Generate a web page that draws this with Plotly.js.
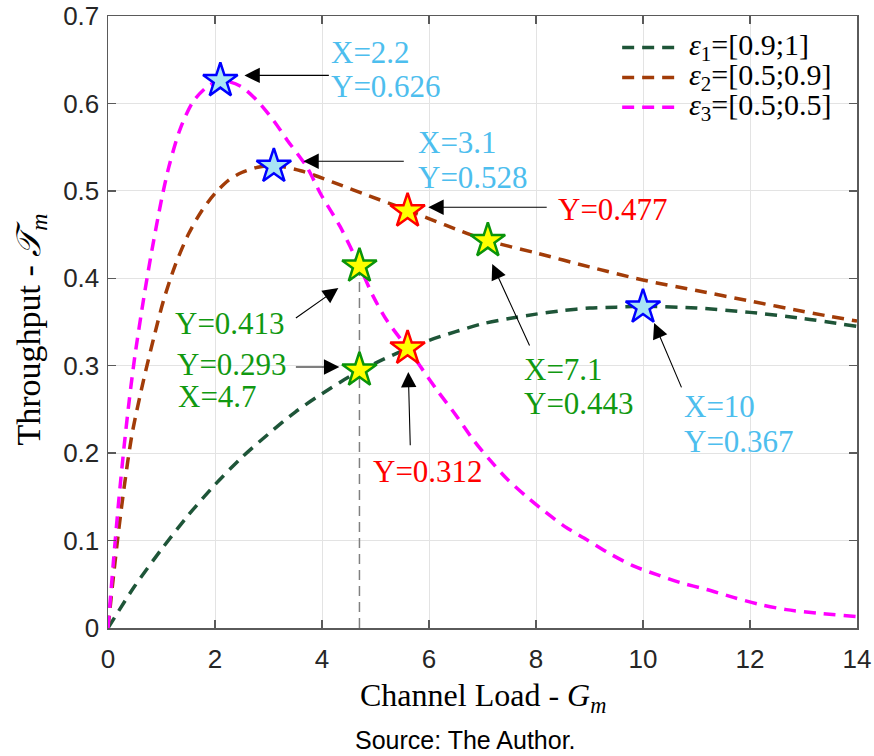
<!DOCTYPE html>
<html>
<head>
<meta charset="utf-8">
<script src="https://cdn.plot.ly/plotly-3.0.1.min.js"></script>
<style>html,body{margin:0;padding:0;background:#fff;}#chart{width:874px;height:756px;}</style>
</head>
<body>
<div id="chart"></div>
<script>
// ---- data ----
const e1X = [0, 0.5, 1, 1.5, 2, 2.5, 3, 3.5, 4, 4.5, 5, 5.5, 6, 6.5, 7, 7.5, 8, 8.5, 9, 9.5, 10, 11, 12, 13, 14];
const e1Y = [0, 0.048, 0.090, 0.129, 0.164, 0.195, 0.222, 0.247, 0.268, 0.287, 0.303, 0.317, 0.329, 0.339, 0.348, 0.354, 0.359, 0.363, 0.366, 0.367, 0.368, 0.366, 0.361, 0.354, 0.345];

const e2X = [0, 0.1, 0.2, 0.3, 0.45, 0.67, 0.86, 1.04, 1.25, 1.5, 1.75, 2.0, 2.25, 2.5, 2.8, 3.1, 3.6, 4.2, 4.8, 5.6, 6.3, 7.1, 8, 9, 10, 11, 12, 13, 14];
const e2Y = [0, 0.058, 0.112, 0.160, 0.222, 0.285, 0.333, 0.375, 0.414, 0.450, 0.477, 0.497, 0.512, 0.521, 0.527, 0.529, 0.523, 0.510, 0.496, 0.478, 0.461, 0.443, 0.429, 0.413, 0.398, 0.386, 0.374, 0.362, 0.351];

const e3X = [0, 0.1, 0.2, 0.3, 0.4, 0.5, 0.67, 0.8, 1.0, 1.14, 1.35, 1.6, 1.9, 2.15, 2.47, 2.79, 3.1, 3.35, 3.72, 3.97, 4.34, 4.7, 4.96, 5.21, 5.6, 5.84, 6.15, 6.52, 6.83, 7.14, 7.45, 7.83, 8.17, 8.54, 8.95, 9.35, 9.82, 10.26, 10.69, 11.19, 11.69, 12.18, 12.68, 13.24, 14];
const e3Y = [0, 0.075, 0.145, 0.207, 0.262, 0.310, 0.378, 0.425, 0.490, 0.528, 0.571, 0.603, 0.621, 0.626, 0.620, 0.603, 0.580, 0.558, 0.527, 0.497, 0.459, 0.414, 0.379, 0.352, 0.320, 0.299, 0.272, 0.242, 0.215, 0.192, 0.171, 0.150, 0.133, 0.116, 0.101, 0.086, 0.071, 0.061, 0.052, 0.044, 0.035, 0.027, 0.021, 0.017, 0.013];

const seriesNames = ['<i>ε</i><sub>1</sub>=[0.9;1]', '<i>ε</i><sub>2</sub>=[0.5;0.9]', '<i>ε</i><sub>3</sub>=[0.5;0.5]'];
const seriesColors = ['#1e5538', '#a23c08', '#ff00ff'];

const blueStarX = [2.1, 3.1, 10];
const blueStarY = [0.626, 0.528, 0.367];
const redStarX = [5.6, 5.6];
const redStarY = [0.477, 0.320];
const greenStarX = [4.7, 4.7, 7.1];
const greenStarY = [0.414, 0.295, 0.443];

const guideX = [4.7, 4.7];
const guideY = [0, 0.413];

// label texts
const labelTexts = ['X=2.2', 'Y=0.626', 'X=3.1', 'Y=0.528', 'Y=0.477', 'Y=0.413', 'Y=0.293', 'X=4.7', 'Y=0.312', 'X=7.1', 'Y=0.443', 'X=10', 'Y=0.367'];

const xTicks = [0, 2, 4, 6, 8, 10, 12, 14];
const yTicks = [0, 0.1, 0.2, 0.3, 0.4, 0.5, 0.6, 0.7];

// ---- styling ----
const DASH = '12px,8px';
const serif = 'Liberation Serif, Times New Roman, serif';
const sans = 'Liberation Sans, Arial, sans-serif';
const cBlueTxt = '#4DBEEE', cGreenTxt = '#119911', cRedTxt = '#ff0000';

const traces = [0, 1, 2].map(i => ({
  x: [e1X, e2X, e3X][i], y: [e1Y, e2Y, e3Y][i], name: seriesNames[i], mode: 'lines', showlegend: false,
  line: {color: seriesColors[i], width: 3.5, dash: DASH, shape: 'spline', smoothing: 0.8}
}));
traces.push(
  {x: guideX, y: guideY, mode: 'lines', showlegend: false, line: {color: '#808080', width: 1.5, dash: '10px,6px'}},
  {x: blueStarX, y: blueStarY, mode: 'markers', showlegend: false, marker: {symbol: 'star', size: 26, color: '#a8e4f5', line: {color: '#0000ff', width: 2.5}}},
  {x: redStarX, y: redStarY, mode: 'markers', showlegend: false, marker: {symbol: 'star', size: 26, color: '#ffff00', line: {color: '#ff0000', width: 2.5}}},
  {x: greenStarX, y: greenStarY, mode: 'markers', showlegend: false, marker: {symbol: 'star', size: 26, color: '#ffff00', line: {color: '#0a940a', width: 2.5}}}
);

// pixel -> data / paper helpers (plot area 107.5..857 x, 628.5..15.5 y)
const X0 = 107.5, PW = 749.5, Y0 = 628.5, PH = 613;
const dx = p => (p - X0) / PW * 14;
const dy = p => (Y0 - p) / PH * 0.7;
const px = p => (p - X0) / PW;
const py = p => (Y0 - p) / PH;

// arrows: [tailPx, tailPy, tipPx, tipPy]
const arrowPx = [
  [330, 75, 244, 75],
  [405, 161, 303, 161],
  [548, 207, 428, 207],
  [294, 319, 338, 288],
  [294, 367, 339, 367],
  [410, 447, 408, 372],
  [530, 347, 492, 264],
  [682, 389, 654, 323]
];
// labels: [text index, leftPx, centerPy, color]
const labelPx = [
  [0, 329, 52, cBlueTxt], [1, 329, 86, cBlueTxt],
  [2, 416, 142, cBlueTxt], [3, 416, 177, cBlueTxt],
  [4, 556, 209, cRedTxt],
  [5, 173, 323, cGreenTxt],
  [6, 175, 365, cGreenTxt], [7, 176, 397, cGreenTxt],
  [8, 371, 472, cRedTxt],
  [9, 522, 370, cGreenTxt], [10, 522, 404, cGreenTxt],
  [11, 682, 407, cBlueTxt], [12, 682, 442, cBlueTxt]
];

const annotations = [];
arrowPx.forEach(a => annotations.push({
  x: dx(a[2]), y: dy(a[3]), ax: dx(a[0]), ay: dy(a[1]), axref: 'x', ayref: 'y', xref: 'x', yref: 'y',
  text: '', showarrow: true, arrowhead: 2, arrowsize: 2.8, arrowwidth: 1.1, arrowcolor: '#000', standoff: 0
}));
labelPx.forEach(l => annotations.push({
  x: dx(l[1]), y: dy(l[2]), xref: 'x', yref: 'y', xanchor: 'left', yanchor: 'middle',
  text: labelTexts[l[0]], showarrow: false, font: {family: serif, size: 31, color: l[3]}
}));

// legend (drawn manually so the line samples match the reference length)
const legendRowsPy = [47, 77, 107];
const shapes = [];
seriesNames.forEach((n, i) => {
  shapes.push({type: 'line', xref: 'paper', yref: 'paper', x0: px(622), x1: px(682), y0: py(legendRowsPy[i]), y1: py(legendRowsPy[i]),
    line: {color: seriesColors[i], width: 3.5, dash: DASH}});
  annotations.push({x: px(687), y: py(legendRowsPy[i]), xref: 'paper', yref: 'paper', xanchor: 'left', yanchor: 'middle',
    text: n, showarrow: false, font: {family: serif, size: 30, color: '#000'}});
});

annotations.push({
  x: px(465), y: py(741), xref: 'paper', yref: 'paper', xanchor: 'center', yanchor: 'middle',
  text: 'Source: The Author.', showarrow: false, font: {family: sans, size: 25, color: '#000'}
});
annotations.push({
  x: 0.5, y: py(676), xref: 'paper', yref: 'paper', xanchor: 'center', yanchor: 'top',
  text: 'Channel Load - <i>G</i><sub><i>m</i></sub>', showarrow: false, font: {family: serif, size: 32, color: '#000'}
});
annotations.push({
  x: px(30), y: py(330), xref: 'paper', yref: 'paper', xanchor: 'center', yanchor: 'middle', textangle: -90,
  text: 'Throughput - <i>𝒯</i><sub><i>m</i></sub>', showarrow: false, font: {family: serif, size: 34, color: '#000'}
});

const axisCommon = {
  showline: true, linecolor: '#5a5a5a', linewidth: 1.5, mirror: 'ticks',
  ticks: 'inside', ticklen: 8, tickcolor: '#5a5a5a', tickwidth: 1.5,
  showgrid: true, gridcolor: '#e3e3e3', gridwidth: 1, zeroline: false,
  tickfont: {family: sans, size: 26, color: '#262626'}
};

const layout = {
  width: 874, height: 756,
  margin: {l: 107.5, r: 17, t: 15.5, b: 127.5},
  paper_bgcolor: '#fff', plot_bgcolor: '#fff',
  showlegend: false,
  xaxis: Object.assign({}, axisCommon, {range: [0, 14], tickvals: xTicks, ticktext: xTicks.map(String), ticklabelstandoff: 7}),
  yaxis: Object.assign({}, axisCommon, {range: [0, 0.7], tickvals: yTicks, ticktext: yTicks.map(v => String(v)), ticklabelstandoff: 2}),
  annotations: annotations,
  shapes: shapes
};

Plotly.newPlot('chart', traces, layout, {displayModeBar: false, staticPlot: true});
</script>
</body>
</html>
